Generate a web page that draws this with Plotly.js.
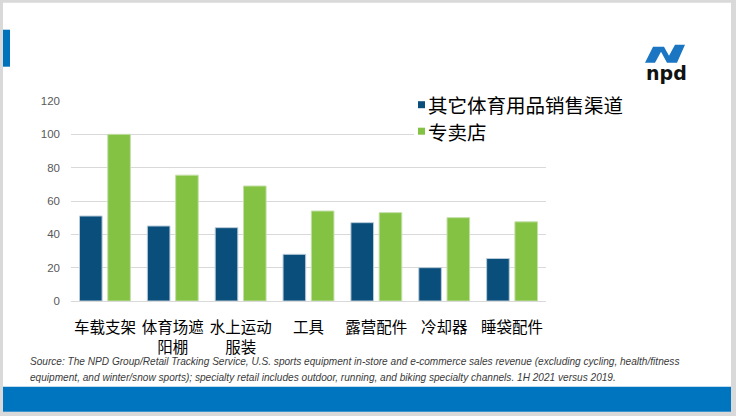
<!DOCTYPE html>
<html>
<head>
<meta charset="utf-8">
<script src="https://cdn.plot.ly/plotly-3.0.1.min.js"></script>
<style>
  html, body { margin: 0; padding: 0; background: #ffffff; }
  #chart { width: 736px; height: 416px; }
</style>
</head>
<body>
<div id="chart"></div>
<script>
// categories and values
var categories = ['车载支架', '体育场遮<br>阳棚', '水上运动<br>服装', '工具', '露营配件', '冷却器', '睡袋配件']
var otherChannels = [51, 45, 44, 28, 47, 20, 25.5]
var specialtyStores = [100, 75.5, 69, 54, 53, 50, 47.5]
var seriesNames = ['其它体育用品销售渠道', '专卖店']
var seriesColors = ['#0a4f7c', '#83c243']
var yTicks = [0, 20, 40, 60, 80, 100, 120]

var sourceLines = [
    'Source: The NPD Group/Retail Tracking Service, U.S. sports equipment in-store and e-commerce sales revenue (excluding cycling, health/fitness',
    'equipment, and winter/snow sports); specialty retail includes outdoor, running, and biking specialty channels. 1H 2021 versus 2019.'
]

// plot area in pixels, so decorations can be placed by pixel
var plotL = 71, plotR = 546, plotT = 101.3, plotB = 301.3
function px(x) { return (x - plotL) / (plotR - plotL) }
function py(y) { return (plotB - y) / (plotB - plotT) }

var cjk = '"Noto Sans CJK SC", "Noto Sans", sans-serif'

var trace1 = {
    x: categories,
    y: otherChannels,
    name: seriesNames[0],
    type: 'bar',
    marker: { color: seriesColors[0], line: { color: '#b9cbd8', width: 1 } },
    hoverinfo: 'none'
}
var trace2 = {
    x: categories,
    y: specialtyStores,
    name: seriesNames[1],
    type: 'bar',
    marker: { color: seriesColors[1], line: { color: '#c4dfa8', width: 1 } },
    hoverinfo: 'none'
}

var shapes = [
    // white slide face
    { type: 'rect', xref: 'paper', yref: 'paper', layer: 'below',
      x0: px(3), x1: px(731), y0: py(412), y1: py(3),
      fillcolor: '#ffffff', line: { width: 0 } },
    // left accent
    { type: 'rect', xref: 'paper', yref: 'paper', layer: 'below',
      x0: px(3), x1: px(10), y0: py(67), y1: py(30),
      fillcolor: '#0072bc', line: { width: 0 } },
    // bottom band
    { type: 'rect', xref: 'paper', yref: 'paper', layer: 'below',
      x0: px(3), x1: px(731), y0: py(412), y1: py(387),
      fillcolor: '#0075bf', line: { width: 0 } },
    // legend box, white, sits over the top gridlines
    { type: 'rect', xref: 'paper', yref: 'paper', layer: 'above',
      x0: px(414), x1: px(646), y0: py(143), y1: py(94),
      fillcolor: '#ffffff', line: { width: 0 } },
    // npd logo mark
    { type: 'path', xref: 'paper', yref: 'paper', layer: 'above',
      path: 'M ' + px(645) + ',' + py(63) + ' L ' + px(653) + ',' + py(47) +
            ' L ' + px(664) + ',' + py(47) + ' L ' + px(669) + ',' + py(56) +
            ' L ' + px(675) + ',' + py(45) + ' L ' + px(685) + ',' + py(45) +
            ' L ' + px(677) + ',' + py(63) + ' L ' + px(667) + ',' + py(63) +
            ' L ' + px(661) + ',' + py(52) + ' L ' + px(655) + ',' + py(63) + ' Z',
      fillcolor: '#1a76c2', line: { width: 0 } }
]

var annotations = [
    { text: '<b>npd</b>', xref: 'paper', yref: 'paper', showarrow: false,
      x: px(666), y: py(73), xanchor: 'center', yanchor: 'middle',
      font: { family: '"DejaVu Sans", sans-serif', size: 19, color: '#111111' } }
]

// hand-made legend: small squares and text, like the slide
var legendY = [105, 131.5]
seriesNames.forEach(function(name, i) {
    shapes.push({ type: 'rect', xref: 'paper', yref: 'paper', layer: 'above',
        x0: px(418), x1: px(425), y0: py(legendY[i] + 3.5), y1: py(legendY[i] - 3.5),
        fillcolor: seriesColors[i], line: { width: 0 } })
    annotations.push({ text: name, xref: 'paper', yref: 'paper', showarrow: false,
        x: px(427), y: py(legendY[i]), xanchor: 'left', yanchor: 'middle', borderpad: 0,
        font: { family: cjk, size: 19.5, color: '#000000' } })
})

sourceLines.forEach(function(line, i) {
    annotations.push({ text: '<i>' + line + '</i>', xref: 'paper', yref: 'paper', showarrow: false,
        x: px(28), y: py(362 + i * 16), xanchor: 'left', yanchor: 'middle', align: 'left',
        font: { family: '"Liberation Sans", Arial, sans-serif', size: 10.1, color: '#3a3a3a' } })
})

var layout = {
    width: 736,
    height: 416,
    margin: { l: plotL, r: 736 - plotR, t: plotT, b: 416 - plotB },
    paper_bgcolor: '#d9d9d9',
    plot_bgcolor: 'rgba(0,0,0,0)',
    barmode: 'group',
    bargap: 0.167,
    bargroupgap: 0.2,
    showlegend: false,
    xaxis: {
        type: 'category',
        showgrid: false,
        showline: true,
        linecolor: '#d9d9d9',
        linewidth: 1,
        ticks: '',
        ticklabelstandoff: 12,
        tickfont: { family: cjk, size: 15.5, color: '#000000' },
        fixedrange: true
    },
    yaxis: {
        range: [0, 120],
        tickvals: yTicks,
        ticktext: yTicks.map(String),
        showgrid: true,
        gridcolor: '#d9d9d9',
        zeroline: false,
        showline: false,
        ticks: '',
        ticklabelstandoff: 10,
        tickfont: { family: '"Liberation Sans", Arial, sans-serif', size: 11.5, color: '#595959' },
        fixedrange: true
    },
    shapes: shapes,
    annotations: annotations
}

Plotly.newPlot('chart', [trace1, trace2], layout, { staticPlot: true, displayModeBar: false })
</script>
</body>
</html>
